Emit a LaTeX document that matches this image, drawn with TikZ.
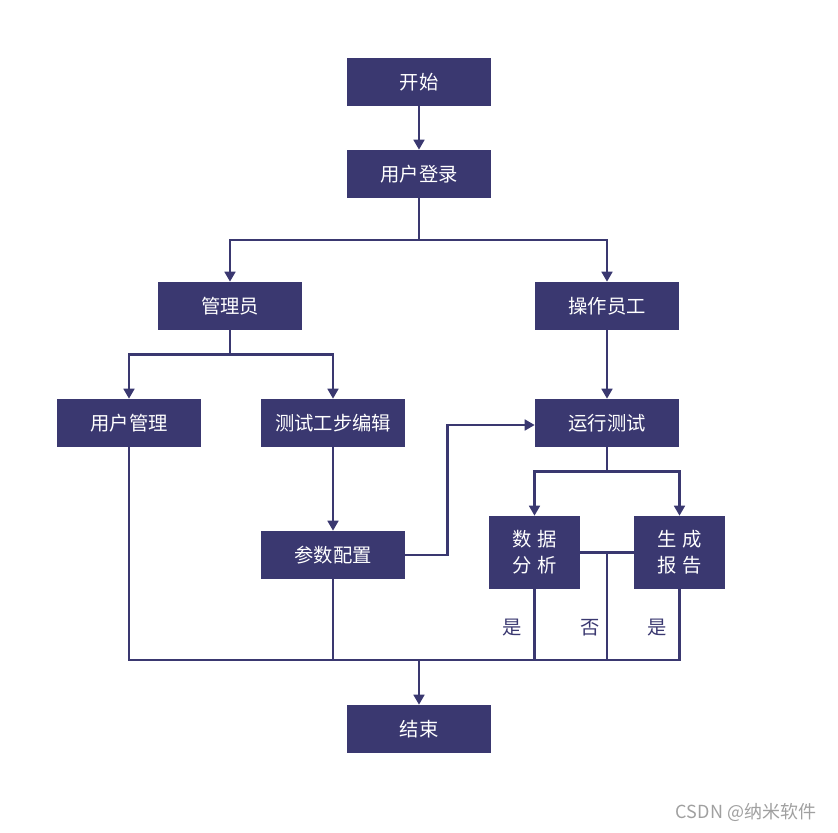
\documentclass[tikz,border=0pt]{standalone}
\usepackage{fontspec}
\usepackage{xcolor}
\usetikzlibrary{positioning, arrows.meta, calc}
\newfontfamily\cjk{Noto Sans CJK SC}
\definecolor{boxNavy}{HTML}{3A3870}
\definecolor{markGray}{HTML}{A0A0A0}

\begin{document}
\begin{tikzpicture}[
        x=0.75pt, y=-0.75pt,
        font=\cjk\fontsize{14.5}{19.5}\selectfont,
        box/.style={fill=boxNavy, text=white, align=center, inner sep=0pt,
                    minimum width=108pt, minimum height=36pt},
        sbox/.style={box, minimum width=68.25pt, minimum height=54.75pt},
        ln/.style={draw=boxNavy, line width=1.9pt},
        arr/.style={ln, -{Triangle[length=7.5pt, width=8pt]}},
        lbl/.style={text=boxNavy, inner sep=0pt}]
        \useasboundingbox (0,0) rectangle (838,832);
        \node[box] (start)    at (419,82)  {开始};
        \node[box] (login)    at (419,174) {用户登录};
        \node[box] (admin)    at (230,306) {管理员};
        \node[box] (operator) at (607,306) {操作员工};
        \node[box] (usermgr)  at (129,423) {用户管理};
        \node[box] (stepedit) at (333,423) {测试工步编辑};
        \node[box] (runtest)  at (607,423) {运行测试};
        \node[box] (param)    at (333,555) {参数配置};
        \node[sbox] (analysis) at (534.5,552.5) {数\hspace{4.5pt}据\\分\hspace{4.5pt}析};
        \node[sbox] (report)   at (679.5,552.5) {生\hspace{4.5pt}成\\报\hspace{4.5pt}告};
        \node[box] (finish)   at (419,729) {结束};
        \node[lbl] (yesA) at (512,628) {是};
        \node[lbl] (noB)  at (590,628) {否};
        \node[lbl] (yesC) at (657,628) {是};
        \node[text=markGray, font=\cjk\fontsize{13.5}{16}\selectfont] (mark) at (746,812) {CSDN @纳米软件};
        \coordinate (split) at (419,240);
        \coordinate (bus) at (419,660);
        \coordinate (mid) at ($(analysis.east)!0.5!(report.west)$);
        % top part
        \draw[arr] (start) -- (login);
        \draw[ln] (login.south) -- (split);
        \draw[arr] (split) -| (admin.north);
        \draw[arr] (split) -| (operator.north);
        \draw[ln] (admin.south) -- ++(0,24) coordinate (adminsplit);
        \draw[arr] (adminsplit) -| (usermgr.north);
        \draw[arr] (adminsplit) -| (stepedit.north);
        \draw[arr] (operator) -- (runtest);
        \draw[arr] (stepedit) -- (param);
        \draw[arr] (param.east) -- ++(42,0) |- ($(runtest.west)+(0,2)$);
        \draw[ln] (runtest.south) -- ++(0,24) coordinate (runsplit);
        \draw[arr] (runsplit) -| (analysis.north);
        \draw[arr] (runsplit) -| (report.north);
        % merge to the end
        \draw[ln] (analysis.east) -- (report.west);
        \draw[ln] (usermgr.south) |- (report.south |- bus) -- (report.south);
        \draw[ln] (param.south) -- (param.south |- bus);
        \draw[ln] (analysis.south) -- (analysis.south |- bus);
        \draw[ln] (mid) -- (mid |- bus);
        \draw[arr] (bus) -- (finish);
      \end{tikzpicture}
\end{document}
